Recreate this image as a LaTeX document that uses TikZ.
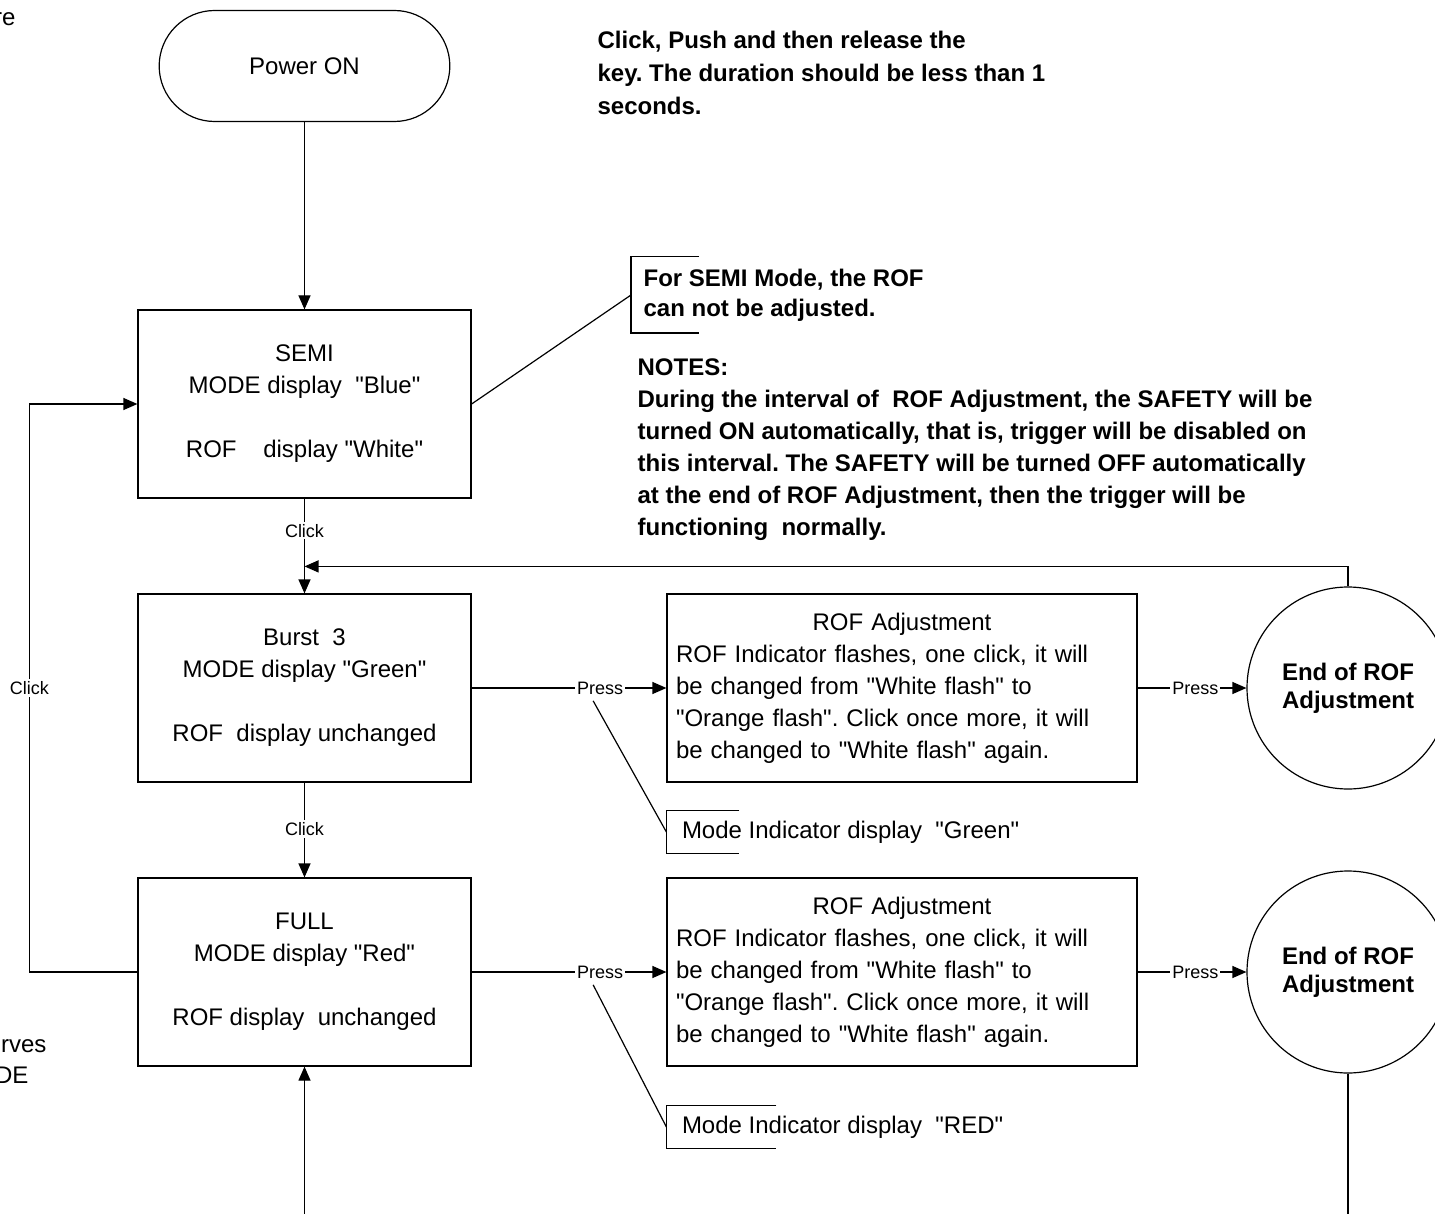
\documentclass[tikz,border=0pt]{standalone}
\usepackage{fontspec}
\setmainfont{Liberation Sans}
\usetikzlibrary{shapes.misc}
\usetikzlibrary{arrows.meta}
\usetikzlibrary{positioning}
\newcommand{\qt}[1]{\textquotedbl #1\textquotedbl}
\frenchspacing

\begin{document}
\begin{tikzpicture}[x=0.5pt, y=-0.5pt, line width=0.6pt, >={Triangle[length=7pt, width=6pt]},
  every node/.style={font=\fontsize{12}{16}\selectfont},
  modebox/.style={draw, shape=rectangle, minimum width=166.5pt, minimum height=94pt, align=center},
  rofbox/.style={draw, shape=rectangle, minimum width=235pt, minimum height=94pt, text width=226pt, inner xsep=4.5pt, align=left},
  endcirc/.style={draw, shape=circle, minimum size=101pt, align=center, font=\fontsize{12}{14}\selectfont\bfseries},
  lbl/.style={fill=white, inner sep=1pt, font=\fontsize{9}{11}\selectfont},
  tip/.style={shape=rectangle, inner xsep=7.5pt, minimum height=21pt, align=left}]
\useasboundingbox (0,0) rectangle (1435,1214);
\node[draw, shape=rounded rectangle, minimum width=152pt, minimum height=55.5pt] (pwr) at (304.5,66) {Power ON};
\node[modebox, below of=pwr, node distance=169pt] (semi) {SEMI\\MODE display\ \ \qt{Blue}\\[16pt]ROF\ \ \ \ display \qt{White}};
\node[modebox, below of=semi, node distance=142pt] (burst) {Burst\ \ 3\\MODE display \qt{Green}\\[16pt]ROF\ \ display unchanged};
\node[modebox, below of=burst, node distance=142pt] (full) {FULL\\MODE display \qt{Red}\\[16pt]ROF display\ \ unchanged};
\node[rofbox, right of=burst, node distance=298.75pt] (rof1) {\makebox[\hsize]{ROF Adjustment}\\ROF Indicator flashes, one click, it will\\be changed from \qt{White flash} to\\\qt{Orange flash}. Click once more, it will\\be changed to \qt{White flash} again.};
\node[rofbox, right of=full, node distance=298.75pt] (rof2) {\makebox[\hsize]{ROF Adjustment}\\ROF Indicator flashes, one click, it will\\be changed from \qt{White flash} to\\\qt{Orange flash}. Click once more, it will\\be changed to \qt{White flash} again.};
\node[endcirc, right of=rof1, node distance=223pt] (end1) {End of ROF\\Adjustment};
\node[endcirc, right of=rof2, node distance=223pt] (end2) {End of ROF\\Adjustment};
% callouts
\node[tip, anchor=west, minimum height=37.5pt, inner xsep=6pt, font=\fontsize{12}{15}\selectfont\bfseries] (semitip) at (631,295) {For SEMI Mode, the ROF\\can not be adjusted.};
\node[tip, below=72pt of rof1.west, anchor=west] (mgreen) {Mode Indicator display\ \ \qt{Green}};
\node[tip, below=77.5pt of rof2.west, anchor=west] (mred) {Mode Indicator display\ \ \qt{RED}};
\draw ([xshift=34pt]semitip.north west) -- (semitip.north west) -- (semitip.south west) -- ([xshift=34pt]semitip.south west);
\draw ([xshift=36.5pt]mgreen.north west) -- (mgreen.north west) -- (mgreen.south west) -- ([xshift=36.5pt]mgreen.south west);
\draw ([xshift=55pt]mred.north west) -- (mred.north west) -- (mred.south west) -- ([xshift=55pt]mred.south west);
% free notes
\node[anchor=north west, inner sep=0pt, align=left, font=\fontsize{12}{16.5}\selectfont\bfseries] (keynote) at (597,31) {Click, Push and then release the\\key. The duration should be less than 1\\seconds.};
\node[anchor=north west, inner sep=0pt, align=left, font=\fontsize{12}{16}\selectfont\bfseries] (notes) at (637,358) {NOTES:\\During the interval of\ \ ROF Adjustment, the SAFETY will be\\turned ON automatically, that is, trigger will be disabled on\\this interval. The SAFETY will be turned OFF automatically\\at the end of ROF Adjustment, then the trigger will be\\functioning\ \ normally.};
\node[anchor=base east, inner sep=0pt] (frag1) at (16,26) {re};
\node[anchor=base east, inner sep=0pt] (frag2) at (2,44) {.};
\node[anchor=base east, inner sep=0pt] (frag3) at (47,1052) {rves};
\node[anchor=base east, inner sep=0pt] (frag4) at (29,1083) {DE};
% connectors
\coordinate[above=13.5pt of burst.north] (back);
\coordinate[below=74.5pt of full.south] (fullin);
\coordinate[below=70.5pt of end2.south] (endout);
\draw[->] (pwr.south) -- (semi.north);
\draw[->] (semi) -- node[lbl, pos=0.34] {Click} (burst);
\draw[->] (burst) -- node[lbl, pos=0.49] {Click} (full);
\draw[->] (full.west) -- ++(-54pt,0) |- node[lbl, pos=0.25] {Click} (semi.west);
\draw[->] (burst) -- node[lbl, pos=0.66] (pr1) {Press} (rof1);
\draw[->] (full) -- node[lbl, pos=0.66] (pr2) {Press} (rof2);
\draw[->] (rof1) -- node[lbl, pos=0.53] {Press} (end1);
\draw[->] (rof2) -- node[lbl, pos=0.53] {Press} (end2);
\draw[->] (end1.north) |- (back);
\draw[->] (fullin) -- (full.south);
\draw (end2.south) -- (endout);
\draw (semi.east) -- (semitip.west);
\draw ([xshift=-3.5pt,yshift=-2pt]pr1.south) -- (mgreen.west);
\draw ([xshift=-3.5pt,yshift=-2pt]pr2.south) -- (mred.west);
\end{tikzpicture}
\end{document}
